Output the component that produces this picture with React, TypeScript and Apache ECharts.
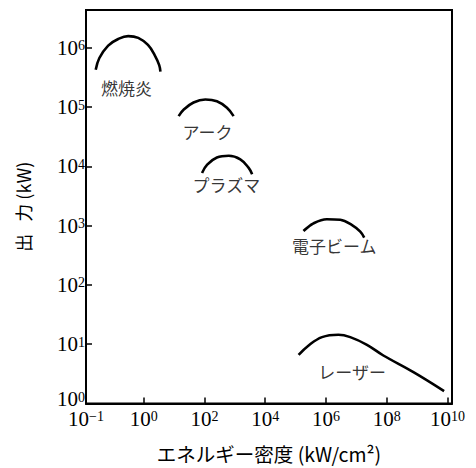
import React, { useEffect, useRef } from "react";
import * as echarts from "echarts";

// All coordinates are log10 exponents (x: energy density kW/cm², y: output kW)
const flameX = [-1.58, -1.46, -1.17, -0.84, -0.51, -0.18, 0.14, 0.36, 0.51, 0.55];
const flameY = [5.63, 5.83, 6.04, 6.15, 6.2, 6.17, 6.05, 5.88, 5.71, 5.6];
const arcX = [1.15, 1.32, 1.64, 2.03, 2.41, 2.74, 2.96];
const arcY = [4.85, 4.96, 5.08, 5.13, 5.1, 4.99, 4.85];
const plasmaX = [1.92, 2.09, 2.41, 2.8, 3.18, 3.45, 3.57];
const plasmaY = [3.89, 4.03, 4.15, 4.18, 4.12, 3.98, 3.87];
const ebeamX = [5.26, 5.59, 6.03, 6.47, 6.86, 7.13, 7.26];
const ebeamY = [2.91, 3.04, 3.11, 3.1, 3.01, 2.9, 2.8];
const laserX = [5.1, 5.43, 5.87, 6.41, 6.8, 7.35, 7.89, 8.88, 9.89];
const laserY = [0.82, 0.98, 1.12, 1.16, 1.12, 0.99, 0.81, 0.53, 0.21];

const seriesNames = ["燃焼炎", "アーク", "プラズマ", "電子ビーム", "レーザー"];
const labelX = [-0.57, 2.1, 2.72, 6.27, 6.86];
const labelY = [5.34, 4.59, 3.7, 2.66, 0.54];

const xTickValues = [-1.9, 0, 2, 4, 6, 8, 10];
const xTickLabels = ["−1", "0", "2", "4", "6", "8", "10"];
const yTickValues = [0, 1, 2, 3, 4, 5, 6];
const yTickLabels = ["0", "1", "2", "3", "4", "5", "6"];

const xTitle = "エネルギー密度 (kW/cm²)";
const yTitle = "出   力 (kW)";

const SERIF = "Liberation Serif";
const JP = "Noto Sans CJK JP";

const zip = (xs: number[], ys: number[]) => xs.map((x, i) => [x, ys[i]]);

const richPow = {
  b: { fontFamily: SERIF, fontSize: 21, lineHeight: 18, color: "#000" },
  s: { fontFamily: SERIF, fontSize: 14, lineHeight: 14, color: "#000", verticalAlign: "top", padding: [0, 0, 6, 0] },
};

export default function App() {
  const ref = useRef<HTMLDivElement>(null);
  useEffect(() => {
    if (!ref.current) return;
    const chart = echarts.init(ref.current, null, { renderer: "svg" });
    const curves = [
      zip(flameX, flameY),
      zip(arcX, arcY),
      zip(plasmaX, plasmaY),
      zip(ebeamX, ebeamY),
      zip(laserX, laserY),
    ];
    const lineStyle = { color: "#000", width: 2.6 };
    // the bottom y label sits slightly above its tick in the original
    const yLabelAt = yTickValues.map((v) => (v === 0 ? v + 0.07 : v));
    chart.setOption({
      animation: false,
      backgroundColor: "#fff",
      grid: {
        left: 86,
        right: 24,
        top: 10,
        bottom: 63,
        show: true,
        borderColor: "#000",
        borderWidth: 2,
      },
      xAxis: {
        type: "value",
        min: -1.9,
        max: 10.15,
        splitLine: { show: false },
        axisLine: { onZero: false, lineStyle: { color: "#000", width: 2 } },
        axisTick: {
          inside: true,
          length: 6,
          lineStyle: { color: "#000", width: 1.5 },
          customValues: xTickValues.slice(1),
        },
        axisLabel: {
          customValues: xTickValues,
          margin: 6,
          fontFamily: SERIF,
          fontSize: 21,
          color: "#000",
          formatter: (v: number) => {
            const i = xTickValues.findIndex((t) => Math.abs(t - v) < 1e-6);
            return `{b|10}{s|${i >= 0 ? xTickLabels[i] : ""}}`;
          },
          rich: richPow,
        },
        name: xTitle,
        nameLocation: "middle",
        nameGap: 40,
        nameTextStyle: { fontFamily: JP, fontSize: 19.5, color: "#000" },
      },
      yAxis: {
        type: "value",
        min: 0,
        max: 6.64,
        splitLine: { show: false },
        axisLine: { onZero: false, lineStyle: { color: "#000", width: 2 } },
        axisTick: {
          inside: true,
          length: 6,
          lineStyle: { color: "#000", width: 1.5 },
          customValues: yTickValues.slice(1),
        },
        axisLabel: {
          customValues: yLabelAt,
          margin: 1,
          fontFamily: SERIF,
          fontSize: 21,
          color: "#000",
          formatter: (v: number) => {
            const i = yTickValues.indexOf(Math.round(v));
            return `{b|10}{s|${i >= 0 ? yTickLabels[i] : ""}}`;
          },
          rich: richPow,
        },
        name: yTitle,
        nameLocation: "middle",
        nameGap: 54,
        nameRotate: 90,
        nameTextStyle: { fontFamily: JP, fontSize: 18, color: "#000" },
      },
      series: [
        ...curves.map((d, i) => ({
          type: "line",
          name: seriesNames[i],
          data: d,
          smooth: 0.4,
          symbol: "none",
          lineStyle,
          silent: true,
        })),
        {
          type: "scatter",
          symbolSize: 0,
          silent: true,
          data: seriesNames.map((n, i) => ({ value: [labelX[i], labelY[i]], name: n })),
          label: {
            show: true,
            position: "inside",
            formatter: (p: any) => p.name,
            fontFamily: JP,
            fontSize: 17,
            color: "#000",
          },
        },
      ],
    });
    return () => chart.dispose();
  }, []);
  return (
    <div
      ref={ref}
      style={{ position: "fixed", left: 0, top: 0, width: 476, height: 468 }}
    />
  );
}
